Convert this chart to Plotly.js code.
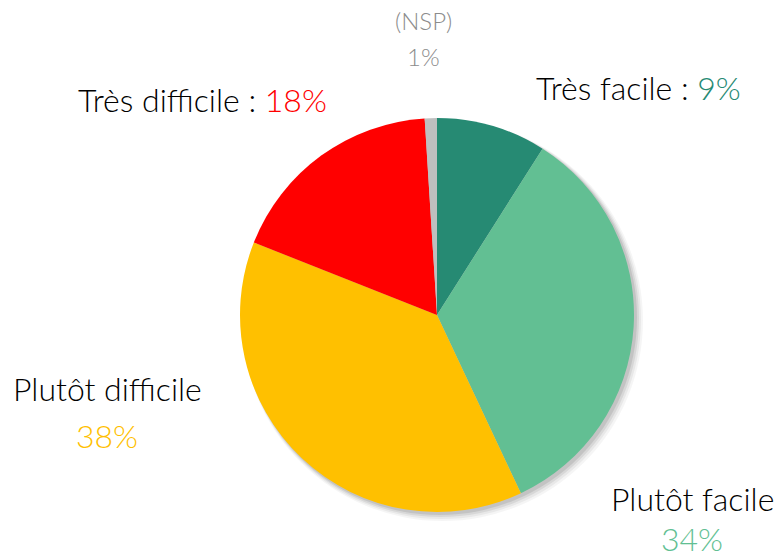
<!DOCTYPE html>
<html><head><meta charset="utf-8">
<script src="https://cdn.plot.ly/plotly-3.0.1.min.js"></script>
<style>html,body{margin:0;padding:0;background:#fff;}#chart{width:778px;height:557px;}</style>
</head><body><div id="chart"></div>
<script>
const categories = ["Très facile", "Plutôt facile", "Plutôt difficile", "Très difficile", "(NSP)"];
const values = [9, 34, 38, 18, 1];
const colors = ["#268A73", "#62BF93", "#FFC000", "#FF0000", "#BFBFBF"];

const FONT = "Lato, 'Open Sans', sans-serif";
const W = 778, H = 557;
const cx = 437, cy = 315, r = 197;
const px = x => x / W, py = y => 1 - y / H;

const trace = {
  type: "pie",
  labels: categories,
  values: values,
  sort: false,
  direction: "clockwise",
  rotation: 0,
  marker: {colors: colors, line: {width: 0}},
  textinfo: "none",
  hoverinfo: "label+percent",
  showlegend: false,
  domain: {x: [px(cx - r), px(cx + r)], y: [py(cy + r), py(cy - r)]}
};

const shadows = [];
[[9, 0.04], [7, 0.05], [5, 0.07], [3, 0.09]].forEach(([d, a]) => {
  shadows.push({type: "circle", xref: "paper", yref: "paper", layer: "below",
    x0: px(cx - r + 2), x1: px(cx + r + d), y0: py(cy + r + d), y1: py(cy - r + 2),
    fillcolor: `rgba(0,0,0,${a})`, line: {width: 0}});
});

const ann = (x, y, text, size, color, weight) => ({xref: "paper", yref: "paper", x: px(x), y: py(y),
  xanchor: "center", yanchor: "middle", showarrow: false, text: text,
  font: {family: FONT, size: size, color: color || "#000", weight: weight || 300}});

const annotations = [
  ann(424, 20, "(NSP)", 24, "#8c8c8c"),
  ann(424, 56, values[4] + "%", 24, "#8c8c8c"),
  ann(202, 99, categories[3] + " : <span style='color:" + colors[3] + "'>" + values[3] + "%</span>", 32),
  ann(638, 88, categories[0] + " : <span style='color:" + colors[0] + "'>" + values[0] + "%</span>", 32),
  ann(107, 389, categories[2], 32),
  ann(107, 435, "<span style='color:" + colors[2] + "'>" + values[2] + "%</span>", 32),
  ann(692, 498, categories[1], 32),
  ann(692, 538, "<span style='color:" + colors[1] + "'>" + values[1] + "%</span>", 32)
];

Plotly.newPlot("chart", [trace], {
  width: W, height: H,
  margin: {l: 0, r: 0, t: 0, b: 0},
  paper_bgcolor: "#fff",
  font: {family: FONT},
  shapes: shadows,
  annotations: annotations
}, {displayModeBar: false, staticPlot: true});
</script></body></html>
